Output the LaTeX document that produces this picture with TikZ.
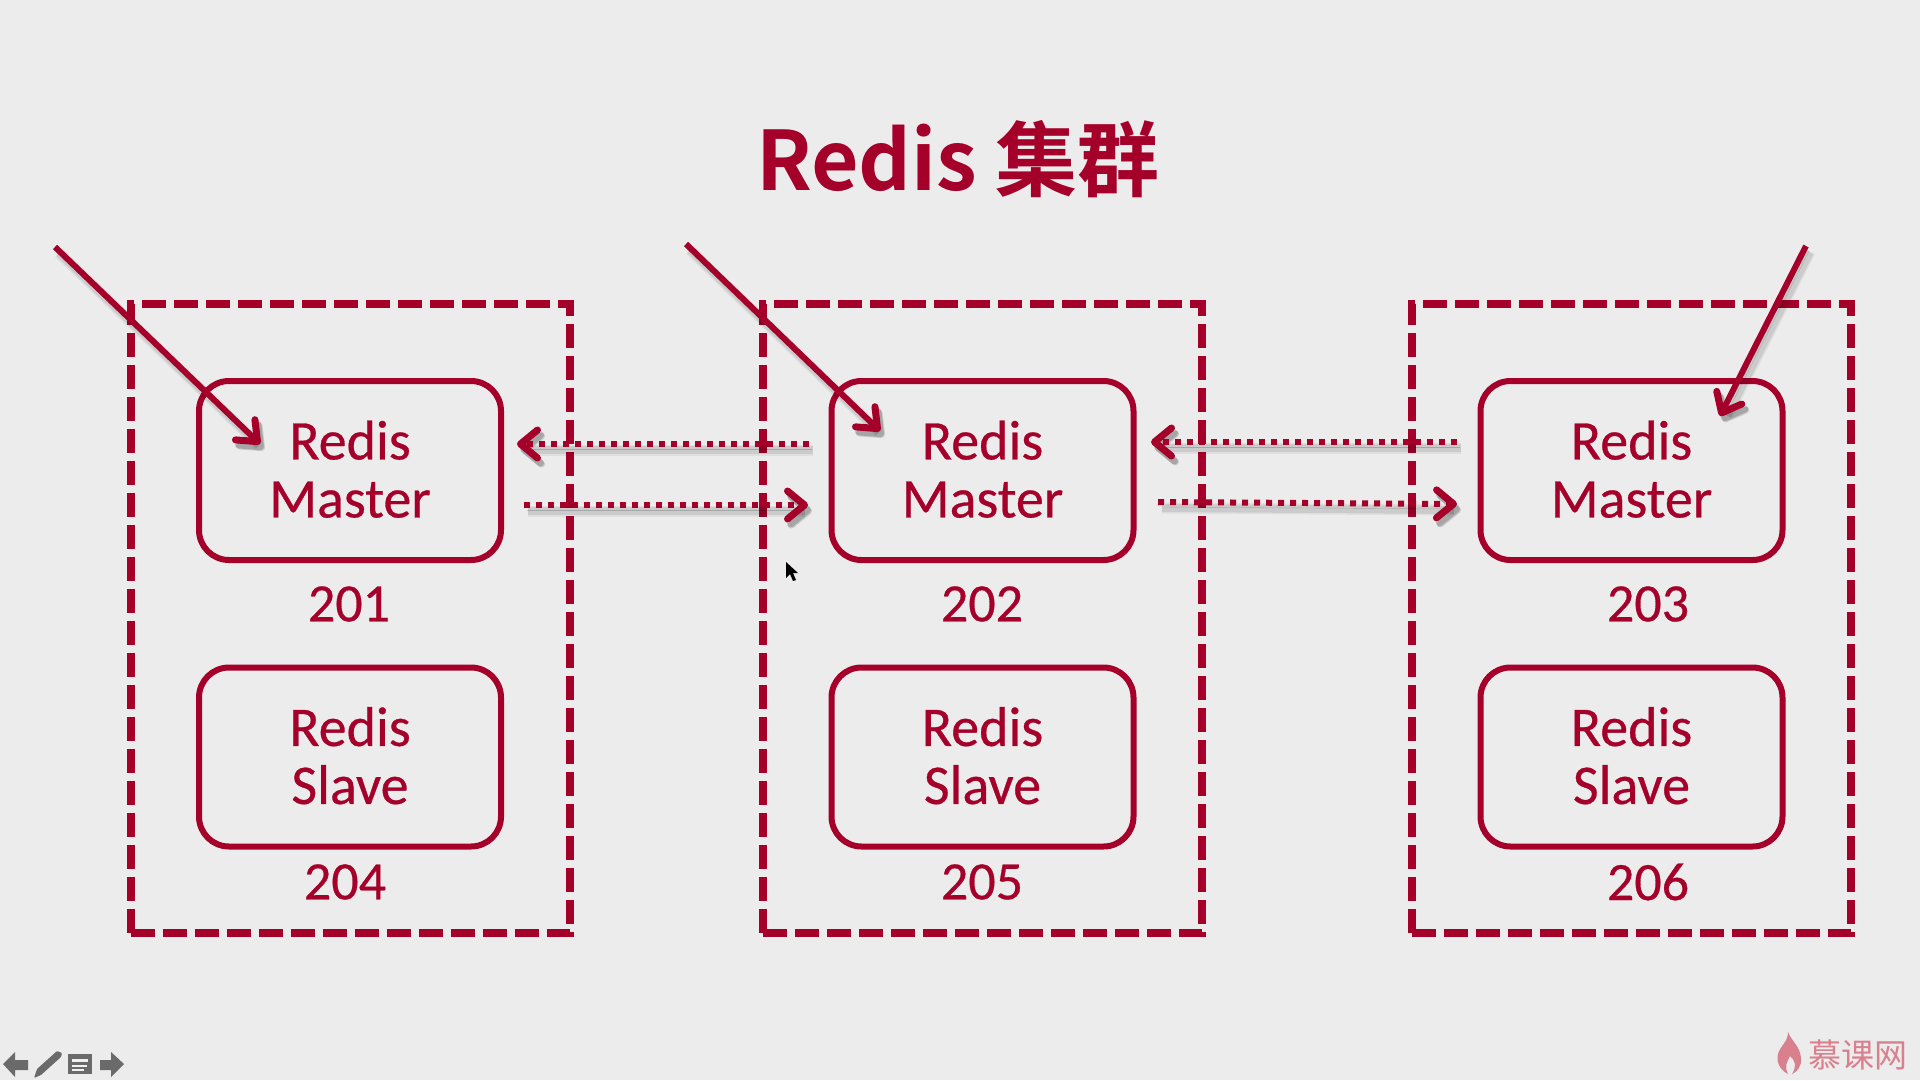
\documentclass[tikz,border=0pt]{standalone}
\usepackage{fontspec}
\setmainfont{Carlito}
\newfontfamily\lab{Carlito}[FakeBold=0.5]
\newfontfamily\cjktitle{Noto Sans CJK SC}[BoldFont={* Bold}]
\usetikzlibrary{arrows.meta}
\definecolor{redis}{HTML}{A5002A}
\definecolor{slide}{HTML}{ECECEC}
\definecolor{navgray}{HTML}{6A6A6A}
\definecolor{wm}{HTML}{D9808F}
\tikzset{
  outerbox/.style={draw=redis,line width=8pt,dash pattern=on 24pt off 8pt,minimum width=439pt,minimum height=629pt,inner sep=0pt},
  innerbox/.style={draw=redis,line width=6pt,rounded corners=30pt,minimum width=302pt,minimum height=179pt,inner sep=0pt,text=redis,align=center,font=\lab\fontsize{56}{58}\selectfont,execute at end node={\rule[-3pt]{0pt}{3pt}}},
  numlabel/.style={text=redis,font=\lab\fontsize{54}{58}\selectfont,inner sep=0pt},
  tip/.style={-{Straight Barb[round,length=17pt,width=28pt,line width=7pt]}},
  softshadow/.style={preaction={draw=black,draw opacity=.18,transform canvas={shift={(3pt,-5pt)}}},preaction={draw=black,draw opacity=.09,line width=8pt,transform canvas={shift={(4pt,-6pt)}}},preaction={draw=black,draw opacity=.05,line width=11pt,transform canvas={shift={(4pt,-6pt)}}}},
  solidarrow/.style={draw=redis,line width=6pt,tip,softshadow},
  dotarrow/.style={draw=redis,line width=6pt,dash pattern=on 6pt off 6pt,tip,softshadow},
  navicon/.style={fill=navgray,draw=none},
}
\begin{document}
\begin{tikzpicture}[x=1pt,y=-1pt]
\useasboundingbox (0,0) rectangle (1920,1080);
\fill[slide] (0,0) rectangle (1920,1080);
% title
\node[text=redis,inner sep=0pt,font=\cjktitle\bfseries\fontsize{82}{100}\selectfont] (title) at (958,159) {Redis 集群};
% outer dashed boxes
\node[outerbox] (g1) at (350,618.5) {};
\node[outerbox] (g2) at (982.5,618.5) {};
\node[outerbox] (g3) at (1631,618.5) {};
% inner boxes
\node[innerbox] (m1) at (350,470.5) {Redis\\Master};
\node[innerbox] (m2) at (982.5,470.5) {Redis\\Master};
\node[innerbox] (m3) at (1631.5,470.5) {Redis\\Master};
\node[innerbox] (s1) at (350,757) {Redis\\Slave};
\node[innerbox] (s2) at (982.5,757) {Redis\\Slave};
\node[innerbox] (s3) at (1631.5,757) {Redis\\Slave};
% numbers
\node[numlabel] (n201) at (349,604) {201};
\node[numlabel] (n202) at (982,604) {202};
\node[numlabel] (n203) at (1648,604) {203};
\node[numlabel] (n204) at (345,882) {204};
\node[numlabel] (n205) at (982,882) {205};
\node[numlabel] (n206) at (1648,882) {206};
% connector ends
\coordinate (c1) at (55,247);  \coordinate (e1) at (260,444);
\coordinate (c2) at (686,244); \coordinate (e2) at (880,431);
\coordinate (c3) at (1806,246);\coordinate (e3) at (1720,416);
\coordinate (a1) at (809,444); \coordinate (a2) at (517,444);
\coordinate (b1) at (524,505); \coordinate (b2) at (808,505);
\coordinate (a3) at (1457,442);\coordinate (a4) at (1151,442);
\coordinate (b3) at (1158,502);\coordinate (b4) at (1457,504);
\draw[solidarrow] (c1) -- (e1);
\draw[solidarrow] (c2) -- (e2);
\draw[solidarrow] (c3) -- (e3);
\draw[dotarrow] (a1) -- (a2);
\draw[dotarrow] (b1) -- (b2);
\draw[dotarrow] (a3) -- (a4);
\draw[dotarrow] (b3) -- (b4);
% mouse cursor
\fill[black] (786,562) -- (786,578) -- (790,574) -- (793,581) -- (796,580) -- (793,573) -- (798,573) -- cycle;
% nav icons
\fill[navicon] (3,1064) -- (15,1052) -- (15,1060) -- (28,1060) -- (28,1070) -- (15,1070) -- (15,1077) -- cycle;
\fill[navicon,rounded corners=1pt] (34,1078) -- (37,1069) -- (57,1051) -- (62,1053) -- (61,1057) -- (41,1075) -- cycle;
\fill[navicon] (68,1054) rectangle (92,1074);
\fill[white!90!navgray] (72,1059) rectangle (88,1062);
\fill[white!90!navgray] (72,1065) rectangle (87,1066.5);
\fill[white!90!navgray] (72,1069) rectangle (84,1070.5);
\fill[navicon] (124,1064) -- (111,1052) -- (111,1060) -- (100,1060) -- (100,1070) -- (111,1070) -- (111,1077) -- cycle;
% watermark
\fill[wm] (1788,1032) .. controls (1792,1042) and (1800,1046) .. (1801,1058) .. controls (1802,1066) and (1797,1072) .. (1792,1074) .. controls (1797,1066) and (1795,1060) .. (1790,1056) .. controls (1787,1062) and (1784,1066) .. (1788,1074) .. controls (1780,1070) and (1776,1062) .. (1778,1054) .. controls (1780,1046) and (1788,1042) .. (1788,1032) -- cycle;
\node[text=wm,inner sep=0pt,font=\cjktitle\fontsize{33}{36}\selectfont] (wmtext) at (1858,1055) {慕课网};
\end{tikzpicture}
\end{document}
